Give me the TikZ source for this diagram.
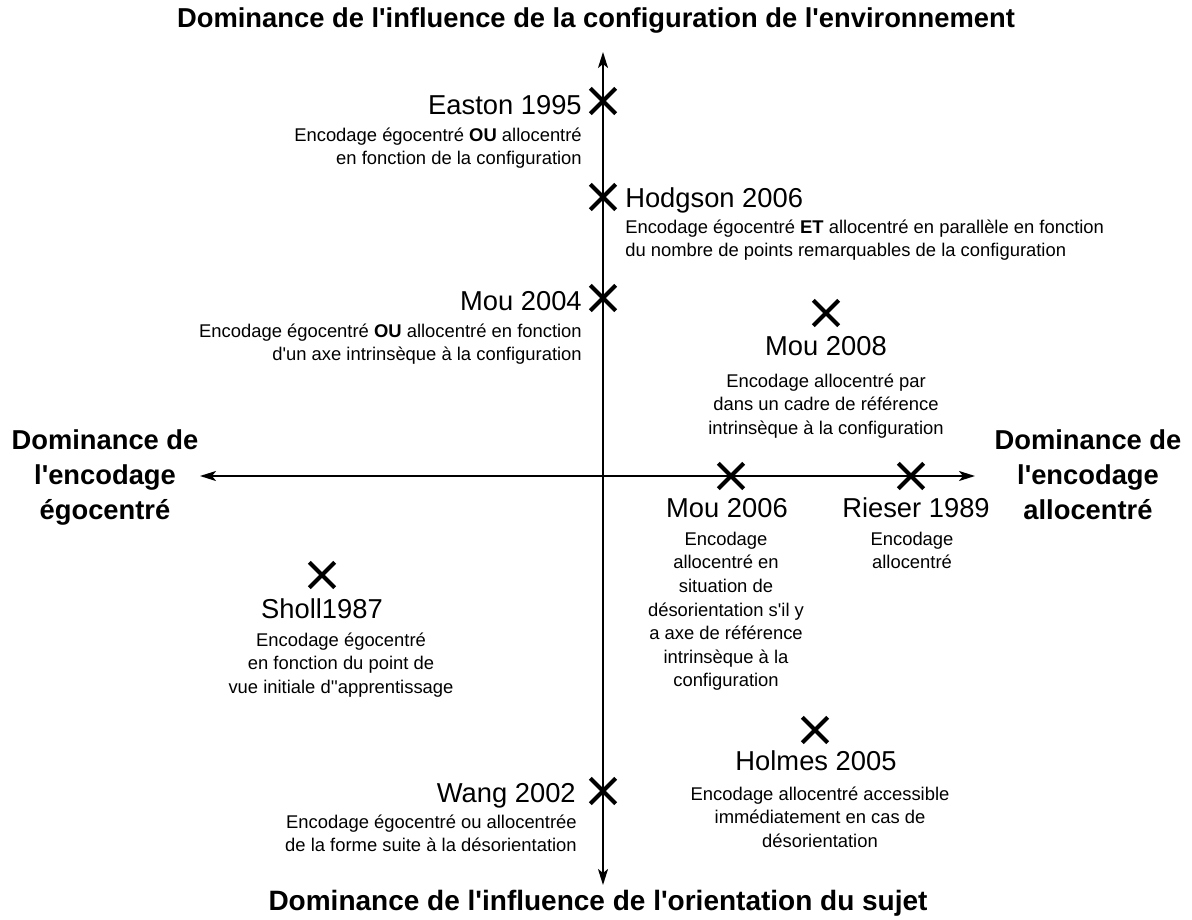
\documentclass[tikz,border=0pt]{standalone}
\usepackage{fontspec}
\setmainfont{Liberation Sans}[Ligatures=TeXOff]
\usetikzlibrary{shapes.misc,arrows.meta}
\begin{document}
\begin{tikzpicture}[x=0.75pt,y=-0.75pt,
  axis/.style={line width=1.5pt,{Stealth[length=12pt,width=7.5pt,inset=3pt]}-{Stealth[length=12pt,width=7.5pt,inset=3pt]}},
  crossmark/.style={draw,cross out,line width=3pt,minimum size=16pt,inner sep=0pt},
  refname/.style={font=\fontsize{20.5}{24}\selectfont,inner sep=0pt},
  desc/.style={font=\fontsize{13.8}{17.7}\selectfont,inner sep=0pt},
  axtitle/.style={font=\fontsize{20.5}{26.3}\selectfont\bfseries,inner sep=0pt,align=center}]
\useasboundingbox (0,0) rectangle (1192,920);
% axes
\coordinate (vt) at (603,52);
\coordinate (vb) at (603,885);
\coordinate (hl) at (200,476);
\coordinate (hr) at (975,476);
\draw[axis] (vb) -- (vt);
\draw[axis] (hl) -- (hr);
% axis titles
\node[axtitle,anchor=base] (ttop) at (596,28) {Dominance de l'influence de la configuration de l'environnement};
\node[axtitle,anchor=base] (tbot) at (598,910) {\fontsize{21}{26.3}\selectfont Dominance de l'influence de l'orientation du sujet};
\node[axtitle,anchor=north] (tleft) at (105,424.8) {\strut Dominance de\\l'encodage\\égocentré};
\node[axtitle,anchor=north] (tright) at (1088,424.8) {\strut Dominance de\\l'encodage\\allocentré};
% Easton
\node[crossmark] (c1) at (603,101) {};
\node[refname,anchor=base east] (n1) at (582,115) {Easton 1995};
\node[desc,anchor=north east,align=right] (d1) at (582,124.5) {\strut Encodage égocentré \textbf{OU} allocentré\\en fonction de la configuration};
% Hodgson
\node[crossmark] (c2) at (603,197) {};
\node[refname,anchor=base west] (n2) at (625,208) {Hodgson 2006};
\node[desc,anchor=north west,align=left] (d2) at (625,216.5) {\strut Encodage égocentré \textbf{ET} allocentré en parallèle en fonction\\du nombre de points remarquables de la configuration};
% Mou 2004
\node[crossmark] (c3) at (603,298) {};
\node[refname,anchor=base east] (n3) at (582,310) {Mou 2004};
\node[desc,anchor=north east,align=right] (d3) at (582,320.5) {\strut Encodage égocentré \textbf{OU} allocentré en fonction\\d'un axe intrinsèque à la configuration};
% Mou 2008
\node[crossmark] (c4) at (826,313) {};
\node[refname,anchor=base] (n4) at (826,355) {Mou 2008};
\node[desc,anchor=north,align=center] (d4) at (826,370.5) {\strut Encodage allocentré par\\dans un cadre de référence\\intrinsèque à la configuration};
% Mou 2006
\node[crossmark] (c5) at (731,476) {};
\node[refname,anchor=base] (n5) at (727,517) {Mou 2006};
\node[desc,anchor=north,align=center] (d5) at (726,528.5) {\strut Encodage\\allocentré en\\situation de\\désorientation s'il y\\a axe de référence\\intrinsèque à la\\configuration};
% Rieser 1989
\node[crossmark] (c6) at (911,476) {};
\node[refname,anchor=base] (n6) at (916,517) {Rieser 1989};
\node[desc,anchor=north,align=center] (d6) at (912,528.5) {\strut Encodage\\allocentré};
% Sholl 1987
\node[crossmark] (c7) at (322,575) {};
\node[refname,anchor=base] (n7) at (322,618) {Sholl1987};
\node[desc,anchor=north,align=center] (d7) at (341,629.5) {\strut Encodage égocentré\\en fonction du point de\\vue initiale d''apprentissage};
% Holmes 2005
\node[crossmark] (c8) at (815,730) {};
\node[refname,anchor=base] (n8) at (816,770) {Holmes 2005};
\node[desc,anchor=north,align=center] (d8) at (820,783.5) {\strut Encodage allocentré accessible\\immédiatement en cas de\\désorientation};
% Wang 2002
\node[crossmark] (c9) at (603,791) {};
\node[refname,anchor=base east] (n9) at (576,802) {Wang 2002};
\node[desc,anchor=north east,align=right] (d9) at (577,811.5) {\strut Encodage égocentré ou allocentrée\\de la forme suite à la désorientation};
\end{tikzpicture}
\end{document}
